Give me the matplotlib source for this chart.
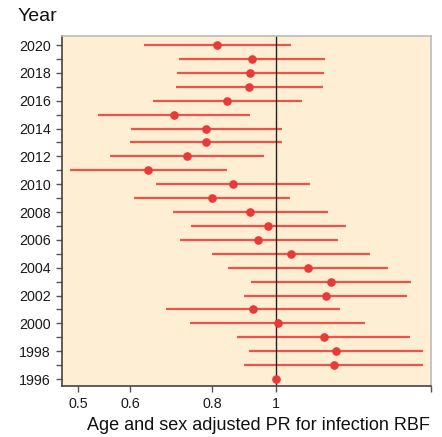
import numpy as np
import matplotlib
matplotlib.use("Agg")
import matplotlib.pyplot as plt

plt.rcParams['font.family'] = ['Liberation Sans', 'DejaVu Sans']

# Prevalence ratio estimates and 95% CI by year
years = [2020, 2019, 2018, 2017, 2016, 2015, 2014, 2013, 2012, 2011, 2010, 2009,
         2008, 2007, 2006, 2005, 2004, 2003, 2002, 2001, 2000, 1999, 1998, 1997, 1996]
pr = [0.814, 0.919, 0.912, 0.910, 0.842, 0.700, 0.783, 0.781, 0.731, 0.638, 0.860, 0.799,
      0.913, 0.972, 0.939, 1.052, 1.117, 1.211, 1.189, 0.922, 1.005, 1.180, 1.232, 1.222, 1.0]
lower = [0.630, 0.712, 0.707, 0.704, 0.649, 0.537, 0.602, 0.600, 0.559, 0.486, 0.658, 0.608,
         0.698, 0.742, 0.714, 0.799, 0.845, 0.915, 0.893, 0.680, 0.741, 0.872, 0.908, 0.894, 1.0]
upper = [1.052, 1.187, 1.180, 1.178, 1.093, 0.913, 1.020, 1.019, 0.957, 0.841, 1.124, 1.048,
         1.197, 1.276, 1.239, 1.386, 1.476, 1.600, 1.580, 1.248, 1.363, 1.594, 1.672, 1.672, 1.0]

xticks = [0.5, 0.6, 0.8, 1]
xtick_labels = ['0.5', '0.6', '0.8', '1']

fig = plt.figure(figsize=(4.42, 4.37), dpi=100)
ax = fig.add_axes([0.1403, 0.1167, 0.8337, 0.8009])
ax.set_facecolor('#FEEFD4')

ax.hlines(years, lower, upper, color='#EE524B', linewidth=1.6, zorder=2)
ax.plot(pr, years, 'o', color='#E83A36', markersize=5.2, zorder=3)
ax.axvline(1, color='#222222', linewidth=1.0, zorder=2.5)

ax.set_xscale('log')
xmin, xmax = 0.473, 1.714
ax.set_xlim(xmin, xmax)
ax.set_ylim(1995.5, 2020.65)

ax.set_xticks(xticks + [xmax])
ax.set_xticklabels(xtick_labels + [''])
ax.xaxis.set_minor_locator(matplotlib.ticker.NullLocator())

ax.set_yticks(range(1996, 2021))
ax.set_yticklabels([str(y) if y % 2 == 0 else '' for y in range(1996, 2021)])

ax.tick_params(axis='both', direction='out', length=4, width=1, color='#555555',
               labelsize=10.3, labelcolor='#1a1a1a', pad=4)

for side in ['top', 'right']:
    ax.spines[side].set_color('#BBBBBB')
    ax.spines[side].set_linewidth(1.2)
for side in ['left', 'bottom']:
    ax.spines[side].set_color('#444444')
    ax.spines[side].set_linewidth(1.2)

fig.text(0.04, 0.963, 'Year', fontsize=14, color='#111111', va='center', ha='left')
fig.text(0.972, 0.027, 'Age and sex adjusted PR for infection RBF', fontsize=13,
         color='#111111', va='center', ha='right')

fig.savefig('out.png', dpi=100)
